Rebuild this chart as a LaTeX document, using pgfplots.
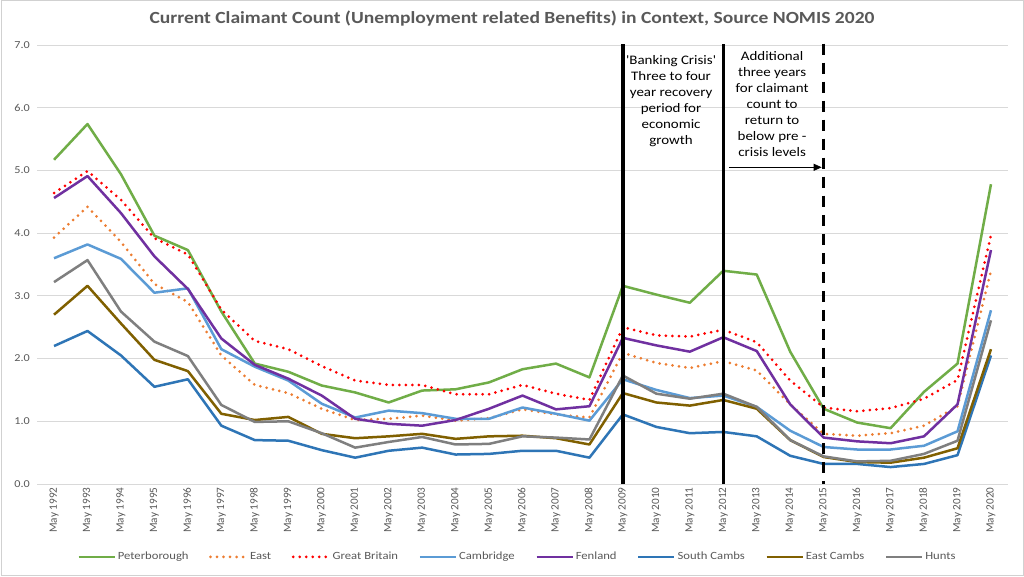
\documentclass[border=0pt]{standalone}
\usepackage{fontspec}
\setmainfont{Carlito}[FakeStretch=1.15]
\newfontfamily\plainfont{Carlito}
\newfontfamily\annfont{Carlito}[FakeStretch=1.15,Ligatures=TeXOff]
\usepackage{pgfplots}
\usepackage{pgfplotstable}
\pgfplotsset{compat=1.18}
\usetikzlibrary{arrows.meta}
\definecolor{cPet}{HTML}{70AD47}
\definecolor{cEast}{HTML}{ED7D31}
\definecolor{cGB}{HTML}{FF0000}
\definecolor{cCamb}{HTML}{5B9BD5}
\definecolor{cFen}{HTML}{7030A0}
\definecolor{cSC}{HTML}{2E75B6}
\definecolor{cEC}{HTML}{806000}
\definecolor{cHunts}{HTML}{7F7F7F}
\definecolor{txtgrey}{HTML}{595959}
\definecolor{gridgrey}{HTML}{D9D9D9}
\pgfplotstableread{
idx Pet East GB Camb Fen SC EC Hunts
0 5.17 3.93 4.64 3.60 4.56 2.20 2.70 3.22
1 5.74 4.42 4.99 3.82 4.91 2.44 3.16 3.57
2 4.94 3.86 4.53 3.59 4.32 2.05 2.56 2.75
3 3.96 3.19 3.92 3.05 3.63 1.55 1.98 2.27
4 3.73 2.90 3.66 3.12 3.11 1.67 1.80 2.04
5 2.75 2.05 2.78 2.15 2.32 0.93 1.12 1.26
6 1.92 1.58 2.28 1.87 1.90 0.70 1.02 0.99
7 1.79 1.45 2.15 1.65 1.68 0.69 1.07 1.00
8 1.57 1.20 1.88 1.28 1.41 0.54 0.80 0.81
9 1.46 1.02 1.65 1.06 1.04 0.42 0.73 0.58
10 1.30 1.04 1.58 1.17 0.96 0.53 0.76 0.67
11 1.49 1.09 1.58 1.13 0.93 0.58 0.80 0.75
12 1.51 1.01 1.43 1.04 1.02 0.47 0.72 0.63
13 1.62 1.05 1.43 1.04 1.20 0.48 0.76 0.64
14 1.83 1.19 1.58 1.22 1.41 0.53 0.77 0.76
15 1.92 1.11 1.44 1.12 1.19 0.53 0.73 0.74
16 1.70 1.06 1.34 1.01 1.24 0.42 0.63 0.71
17 3.16 2.09 2.50 1.67 2.33 1.11 1.45 1.73
18 3.02 1.93 2.37 1.50 2.21 0.91 1.30 1.44
19 2.89 1.85 2.35 1.37 2.11 0.81 1.25 1.36
20 3.40 1.96 2.46 1.41 2.34 0.83 1.34 1.44
21 3.34 1.81 2.26 1.23 2.12 0.76 1.20 1.23
22 2.11 1.27 1.65 0.85 1.27 0.45 0.70 0.70
23 1.20 0.80 1.22 0.59 0.74 0.32 0.43 0.44
24 0.98 0.77 1.16 0.55 0.68 0.32 0.35 0.36
25 0.89 0.81 1.21 0.55 0.65 0.27 0.34 0.37
26 1.47 0.93 1.36 0.61 0.76 0.32 0.42 0.48
27 1.92 1.24 1.66 0.84 1.27 0.46 0.57 0.69
28 4.78 3.40 3.97 2.77 3.73 2.05 2.15 2.61
}\data
\begin{document}
\begin{tikzpicture}
\path[use as bounding box] (0,0) rectangle (1024pt,576pt);
\draw[draw=black!18, line width=1pt, fill=white] (1pt,1pt) rectangle (1023pt,575pt);
\node[font=\bfseries\fontsize{17}{20}\selectfont, text=txtgrey] at (512pt,557pt) {Current Claimant Count (Unemployment related Benefits) in Context, Source NOMIS 2020};
\begin{axis}[
  at={(37.3pt,92pt)}, anchor=south west,
  scale only axis, width=970.4pt, height=439pt,
  xmin=-0.5, xmax=28.5, ymin=0, ymax=7,
  ytick={0,1,...,7},
  xtick={0,1,...,28},
  xticklabels={May 1992,May 1993,May 1994,May 1995,May 1996,May 1997,May 1998,May 1999,May 2000,May 2001,May 2002,May 2003,May 2004,May 2005,May 2006,May 2007,May 2008,May 2009,May 2010,May 2011,May 2012,May 2013,May 2014,May 2015,May 2016,May 2017,May 2018,May 2019,May 2020},
  xticklabel style={rotate=90, anchor=east, font=\plainfont\fontsize{11.2}{12}\selectfont, text=txtgrey},
  yticklabel style={font=\fontsize{10.6}{12}\selectfont, text=txtgrey, xshift=-4pt},
  yticklabel={\pgfmathprintnumber[fixed,fixed zerofill,precision=1,assume math mode=true]{\tick}},
  major tick length=0pt,
  ymajorgrids, grid style={gridgrey, line width=1pt},
  axis line style={draw=none},
  clip=false,
  legend columns=8,
  legend style={at={(0.4948,-0.166)}, anchor=center, draw=none, fill=none,
    font=\fontsize{11}{13}\selectfont, text=txtgrey,
    /tikz/every even column/.append style={column sep=18.5pt},
    nodes={inner sep=2pt}},
  legend image code/.code={\draw[#1] (0pt,0pt) -- (36pt,0pt);},
  every axis plot/.append style={line join=round},
]
\addplot[cPet, line width=2.5pt] table[x=idx,y=Pet]{\data};
\addlegendentry{Peterborough}
\addplot[cEast, line width=3pt, line cap=round, dash pattern=on 0pt off 6.5pt] table[x=idx,y=East]{\data};
\addlegendentry{East}
\addplot[cGB, line width=3pt, line cap=round, dash pattern=on 0pt off 6.5pt] table[x=idx,y=GB]{\data};
\addlegendentry{Great Britain}
\addplot[cCamb, line width=2.5pt] table[x=idx,y=Camb]{\data};
\addlegendentry{Cambridge}
\addplot[cFen, line width=2.5pt] table[x=idx,y=Fen]{\data};
\addlegendentry{Fenland}
\addplot[cSC, line width=2.5pt] table[x=idx,y=SC]{\data};
\addlegendentry{South Cambs}
\addplot[cEC, line width=2.5pt] table[x=idx,y=EC]{\data};
\addlegendentry{East Cambs}
\addplot[cHunts, line width=2.5pt] table[x=idx,y=Hunts]{\data};
\addlegendentry{Hunts}
\addplot[black, line width=3.5pt, forget plot] coordinates {(17,0) (17,7.02)};
\addplot[black, line width=3.5pt, forget plot] coordinates {(20,0) (20,7.02)};
\addplot[black, line width=3.5pt, forget plot, dash pattern=on 11pt off 8pt] coordinates {(23,7.02) (23,0)};
\node[align=center, anchor=north, font=\annfont\fontsize{13}{16}\selectfont, inner sep=0pt] at (axis cs:18.44,6.84) {'Banking Crisis'\\Three to four\\year recovery\\period for\\economic\\growth};
\node[align=center, anchor=north, font=\annfont\fontsize{13}{16}\selectfont, inner sep=0pt] at (axis cs:21.46,6.90) {Additional\\three years\\for claimant\\count to\\return to\\below pre -\\crisis levels};
\draw[-{Triangle[length=8pt,width=7pt]}, line width=0.8pt] (axis cs:20.17,5.05) -- (axis cs:22.94,5.05);
\end{axis}
\end{tikzpicture}
\end{document}
